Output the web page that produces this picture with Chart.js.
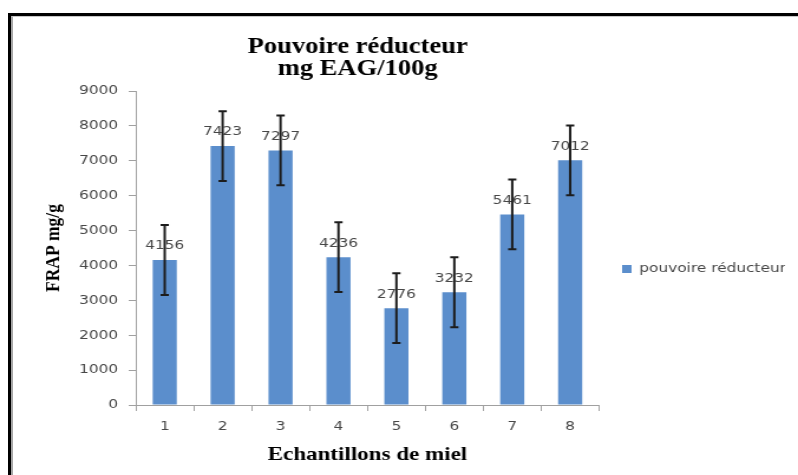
<!DOCTYPE html>
<html>
<head>
<meta charset="utf-8">
<script src="https://cdn.jsdelivr.net/npm/chart.js@4.4.0/dist/chart.umd.min.js"></script>
<style>
  html, body { margin: 0; padding: 0; background: #fff; overflow: hidden; }
  #frame {
    position: absolute; left: 8px; top: 13px; width: 800px; height: 470px;
    border-left: 3px solid #000; border-top: 3px solid #000;
  }
  #frame::before {
    content: ''; position: absolute; left: 0; top: 0; right: 0; bottom: 0;
    border-left: 2px solid #a6a6a6; border-top: 1px solid #c8c8c8;
  }
  /* the chart is drawn narrow and widened, like the old pasted figure */
  #myChart { position: absolute; left: 0; top: 0; transform: scaleX(1.1805); transform-origin: 0 0; }
</style>
</head>
<body>
<div id="frame"></div>
<canvas id="myChart" width="676" height="475"></canvas>
<script>
const labels = ["1", "2", "3", "4", "5", "6", "7", "8"];
const values = [4156, 7423, 7297, 4236, 2776, 3232, 5461, 7012];
const errors = [1000, 1000, 1000, 1000, 1000, 1000, 1000, 1000];
const yTicks = [0, 1000, 2000, 3000, 4000, 5000, 6000, 7000, 8000, 9000];
const titleLines = ["Pouvoire réducteur", "mg EAG/100g"];

const axisGray = '#a0a0a0';
const textGray = '#474747';
const sansFont = { family: 'DejaVu Sans', size: 13 };

// chart title, two centred lines
const header = {
  id: 'header',
  afterDraw(chart) {
    const ctx = chart.ctx;
    ctx.save();
    ctx.font = 'bold 22.5px "Liberation Serif"';
    ctx.fillStyle = '#000';
    ctx.textAlign = 'center';
    ctx.textBaseline = 'alphabetic';
    ctx.fillText(titleLines[0], 303, 53);
    ctx.fillText(titleLines[1], 303, 75);
    ctx.restore();
  }
};

// value above each bar + error bar
const valueMarks = {
  id: 'valueMarks',
  afterDatasetsDraw(chart) {
    const ctx = chart.ctx;
    const y = chart.scales.y;
    const meta = chart.getDatasetMeta(0);
    ctx.save();
    ctx.font = '13px "DejaVu Sans"';
    ctx.fillStyle = textGray;
    ctx.textAlign = 'center';
    ctx.textBaseline = 'middle';
    meta.data.forEach((bar, i) => {
      ctx.fillText(String(values[i]), bar.x, bar.y - 14);
    });
    ctx.strokeStyle = '#1c1c1c';
    ctx.lineWidth = 2;
    meta.data.forEach((bar, i) => {
      const hi = y.getPixelForValue(values[i] + errors[i]);
      const lo = y.getPixelForValue(values[i] - errors[i]);
      ctx.beginPath();
      ctx.moveTo(bar.x, hi); ctx.lineTo(bar.x, lo);
      ctx.moveTo(bar.x - 3.5, hi); ctx.lineTo(bar.x + 3.5, hi);
      ctx.moveTo(bar.x - 3.5, lo); ctx.lineTo(bar.x + 3.5, lo);
      ctx.stroke();
    });
    ctx.restore();
  }
};

new Chart(document.getElementById('myChart'), {
  type: 'bar',
  data: {
    labels: labels,
    datasets: [{
      label: 'pouvoire réducteur',
      data: values,
      backgroundColor: '#5b8ecc',
      barPercentage: 0.416,
      categoryPercentage: 1
    }]
  },
  options: {
    responsive: false,
    animation: false,
    layout: { padding: { left: 35, right: 11, top: 91, bottom: 28 } },
    plugins: {
      tooltip: { enabled: false },
      legend: {
        position: 'right',
        labels: {
          boxWidth: 8, boxHeight: 8, padding: 19.5, color: textGray, font: sansFont,
          // a little slack after the text so the legend clip does not cut the last letter
          generateLabels(chart) {
            return Chart.defaults.plugins.legend.labels.generateLabels(chart)
              .map(item => Object.assign(item, { text: item.text + ' ' }));
          }
        }
      }
    },
    scales: {
      x: {
        grid: { drawOnChartArea: false, offset: true, tickLength: 6, color: axisGray },
        border: { color: axisGray },
        ticks: { padding: 8, color: textGray, font: sansFont },
        title: {
          display: true, text: 'Echantillons de miel', color: '#000',
          font: { family: 'Liberation Serif', weight: 'bold', size: 19.5 },
          padding: { top: 0, bottom: -20 }
        },
        afterFit(scale) { scale.height = 42; }
      },
      y: {
        min: yTicks[0],
        max: yTicks[yTicks.length - 1],
        grid: { drawOnChartArea: false, tickLength: 6, color: axisGray },
        border: { color: axisGray },
        ticks: {
          stepSize: yTicks[1] - yTicks[0], padding: 9, color: textGray, font: sansFont,
          callback: v => String(v)
        },
        title: {
          display: true, text: 'FRAP mg/g', color: '#000',
          font: { family: 'Liberation Serif', weight: 'bold', size: 17.5 },
          padding: { top: 0, bottom: 0 }
        },
        afterFit(scale) { scale.width = 80; }
      }
    }
  },
  plugins: [valueMarks, header]
});
</script>
</body>
</html>
